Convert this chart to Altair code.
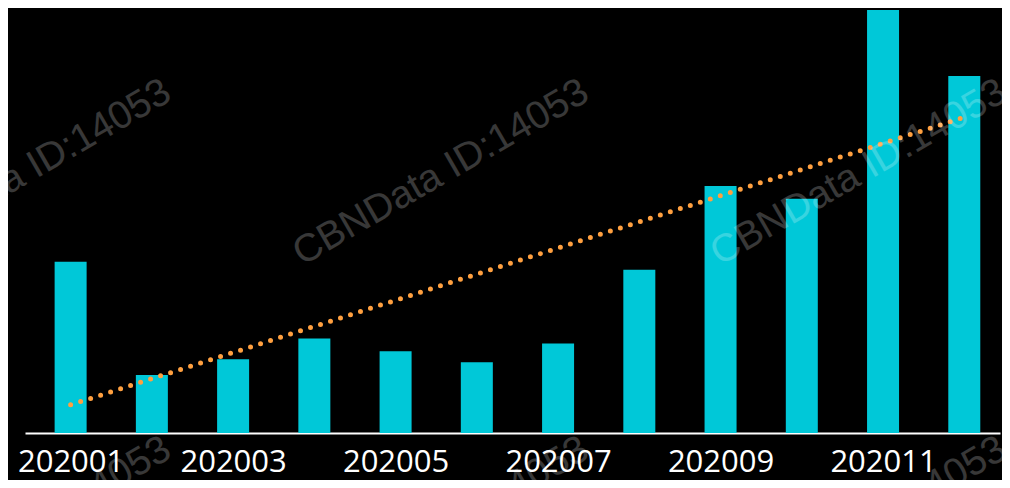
import altair as alt
import pandas as pd

# ---- data ----
months = ["202001", "202002", "202003", "202004", "202005", "202006",
          "202007", "202008", "202009", "202010", "202011", "202012"]
values = [174, 59, 75, 96, 83, 72, 91, 166, 251, 238, 430, 363]
tick_months = [0, 2, 4, 6, 8, 10]

# watermark tiles (position in data units: month index, value)
wm_text = "CBNData ID:14053"
wm_x = [-0.585, 4.556, 9.697, -0.585, 4.556, 9.697]
wm_y = [265, 265, 265, -98, -98, -98]

df = pd.DataFrame({"idx": list(range(len(months))), "month": months, "value": values})
wm = pd.DataFrame({"wx": wm_x, "wy": wm_y, "t": [wm_text] * len(wm_x)})

label_expr = "[" + ",".join("'" + m + "'" for m in months) + "][datum.value]"

xscale = alt.Scale(domain=[-0.5, 11.378], nice=False, zero=False)
yscale = alt.Scale(domain=[0, 430], nice=False)

x_axis = alt.Axis(
    values=tick_months,
    labelExpr=label_expr,
    title=None,
    grid=False,
    ticks=False,
    domain=True,
    domainColor="#ffffff",
    domainWidth=2,
    labelColor="#ffffff",
    labelFont="Open Sans",
    labelFontSize=31,
    labelBaseline="alphabetic",
    labelPadding=38,
    labelFlush=False,
    labelOverlap=False,
)

bars = alt.Chart(df).mark_bar(size=32, color="#00C8D8").encode(
    x=alt.X("idx:Q", scale=xscale, axis=x_axis),
    y=alt.Y("value:Q", scale=yscale, axis=None),
)

trend = alt.Chart(df).transform_regression(
    "idx", "value", method="linear"
).mark_line(
    color="#FFA040", strokeWidth=5, strokeCap="round", strokeDash=[0, 10.5]
).encode(
    x=alt.X("idx:Q", scale=xscale),
    y=alt.Y("value:Q", scale=yscale),
)

watermark = alt.Chart(wm).mark_text(
    font="Liberation Sans", fontSize=39, angle=330, align="center",
    baseline="middle", color="#ffffff", opacity=0.22,
).encode(
    x=alt.X("wx:Q", scale=xscale),
    y=alt.Y("wy:Q", scale=yscale),
    text="t:N",
)

chart = alt.layer(bars, trend, watermark).properties(
    width=975,
    height=423,
    background="#000000",
    padding={"left": 17, "top": 2, "right": 2, "bottom": 47},
    autosize=alt.AutoSizeParams(type="none"),
).configure_view(stroke=None)

chart.save("out.html", embed_options={"renderer": "svg", "actions": False})
